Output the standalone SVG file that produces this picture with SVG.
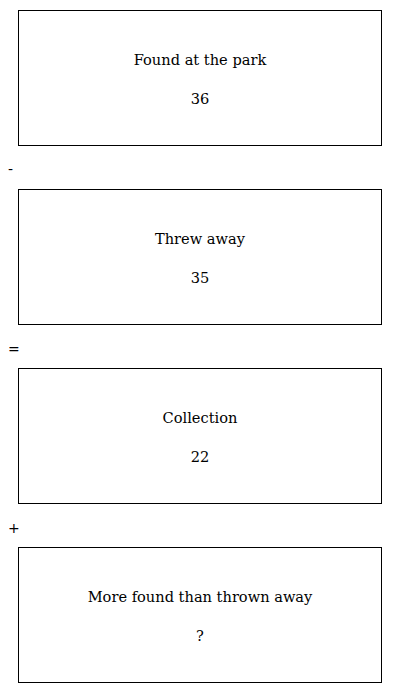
<svg xmlns="http://www.w3.org/2000/svg" width="400" height="693" viewBox="0 0 400 693">
<style>
.box{fill:#fff;stroke:#000;stroke-width:1}
.t{font-family:"DejaVu Serif","Liberation Serif",serif;font-size:14.6px;fill:#000;text-anchor:middle}
.op{font-family:"DejaVu Sans","Liberation Sans",sans-serif;font-size:14px;fill:#000}
</style>
<rect width="400" height="693" fill="#fff"/>
<g id="node1">
<rect class="box" x="18.5" y="10.5" width="363" height="135"/>
<text class="t" x="200" y="65">Found at the park</text>
<text class="t" x="200" y="104">36</text>
</g>
<g id="op1"><text class="op" x="8" y="174">-</text></g>
<g id="node2">
<rect class="box" x="18.5" y="189.5" width="363" height="135"/>
<text class="t" x="200" y="244">Threw away</text>
<text class="t" x="200" y="283">35</text>
</g>
<g id="op2"><text class="op" x="8" y="354">=</text></g>
<g id="node3">
<rect class="box" x="18.5" y="368.5" width="363" height="135"/>
<text class="t" x="200" y="423">Collection</text>
<text class="t" x="200" y="462">22</text>
</g>
<g id="op3"><text class="op" x="8" y="533">+</text></g>
<g id="node4">
<rect class="box" x="18.5" y="547.5" width="363" height="135"/>
<text class="t" x="200" y="602">More found than thrown away</text>
<text class="t" x="200" y="641">?</text>
</g>
<g id="connectors"></g>
</svg>
